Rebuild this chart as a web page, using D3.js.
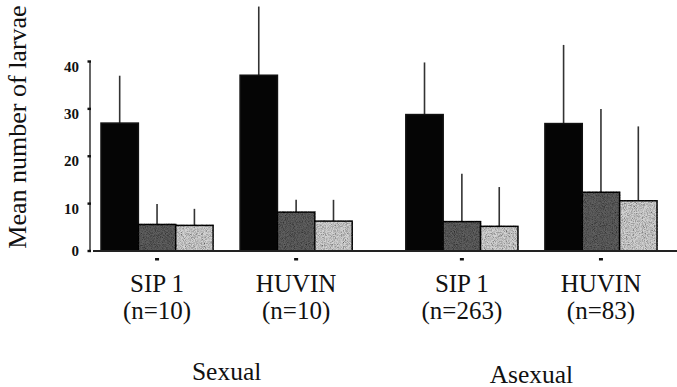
<!DOCTYPE html>
<html>
<head>
<meta charset="utf-8">
<script src="https://cdn.jsdelivr.net/npm/d3@7"></script>
<style>
	html, body { margin: 0; padding: 0; background: #fff; }
	body { width: 677px; height: 387px; overflow: hidden; }
	svg { display: block; }
</style>
</head>
<body>
<div id="chart"></div>
<script>
//data
const reproduction = ['Sexual', 'Asexual'];
const populations = ['SIP 1', 'HUVIN'];
const sampleSizes = [
	['(n=10)', '(n=10)'],
	['(n=263)', '(n=83)'],
];
const seriesNames = ['black', 'dark', 'light'];
// mean per series, in order Sexual SIP 1, Sexual HUVIN, Asexual SIP 1, Asexual HUVIN
const means = [
	[27.0, 37.1, 28.8, 26.9],
	[5.6, 8.2, 6.2, 12.4],
	[5.4, 6.3, 5.2, 10.6],
];
const errors = [
	[10.0, 14.5, 11.0, 16.6],
	[4.3, 2.6, 10.1, 17.6],
	[3.5, 4.5, 8.3, 15.7],
];
const yTicks = [0, 10, 20, 30, 40];

render();

function render() {
	let props = {
		width: 677,
		height: 387,
		axisX: 90,
		baseY: 251,
		topY: 61.5,
		left: 101,
		right: 657,
		colors: ['#050505', '#5e5e5e', '#d2d2d2'],
		font: "'Liberation Serif', 'Times New Roman', serif",
	};

	createVisualization(d3.select('#chart'), props);
}

function createVisualization(container, props) {
	let { width, height, axisX, baseY, topY, left, right, colors, font } = props;

	// one row per bar
	let rows = [];
	reproduction.forEach((r, ri) => {
		populations.forEach((p, pi) => {
			seriesNames.forEach((s, si) => {
				let k = ri * populations.length + pi;
				rows.push({
					rep: r,
					pop: p,
					series: s,
					si: si,
					mean: means[si][k],
					err: errors[si][k],
				});
			});
		});
	});

	const y = d3.scaleLinear().domain([0, 40]).range([baseY, topY]);

	const xOuter = d3
		.scaleBand()
		.domain(reproduction)
		.range([left, right])
		.paddingInner(0.176)
		.paddingOuter(0);

	const xInner = d3
		.scaleBand()
		.domain(populations)
		.range([0, xOuter.bandwidth()])
		.paddingInner(0.194)
		.paddingOuter(0);

	const xBar = d3
		.scaleBand()
		.domain(seriesNames)
		.range([0, xInner.bandwidth()])
		.padding(0);

	const color = d3.scaleOrdinal().domain(seriesNames).range(colors);

	const barX = (d) => xOuter(d.rep) + xInner(d.pop) + xBar(d.series);
	const groupCenter = (r, p) => xOuter(r) + xInner(p) + xInner.bandwidth() / 2;

	let svg = container
		.append('svg')
		.attr('width', width)
		.attr('height', height)
		.style('font-family', font);

	// speckled print texture for the grey bars
	let filter = svg.append('defs')
		.append('filter')
		.attr('id', 'grain')
		.attr('x', '-10%')
		.attr('y', '-10%')
		.attr('width', '120%')
		.attr('height', '120%');
	filter.append('feTurbulence')
		.attr('type', 'fractalNoise')
		.attr('baseFrequency', 1.1)
		.attr('numOctaves', 2)
		.attr('seed', 4)
		.attr('result', 'noise');
	filter.append('feColorMatrix')
		.attr('in', 'noise')
		.attr('type', 'matrix')
		.attr('values', '0 0 0 0 0  0 0 0 0 0  0 0 0 0 0  1.6 0 0 0 -0.6')
		.attr('result', 'dots');
	filter.append('feComposite')
		.attr('in', 'dots')
		.attr('in2', 'SourceGraphic')
		.attr('operator', 'in')
		.attr('result', 'clipped');
	let merge = filter.append('feMerge');
	merge.append('feMergeNode').attr('in', 'SourceGraphic');
	merge.append('feMergeNode').attr('in', 'clipped');

	//y axis
	let axis = svg.append('g');
	axis.append('line')
		.attr('x1', axisX)
		.attr('x2', axisX)
		.attr('y1', y(40))
		.attr('y2', y(0))
		.style('stroke', '#333')
		.style('stroke-width', 1.5);

	axis.selectAll('.tick')
		.data(yTicks)
		.enter()
		.append('rect')
		.attr('class', 'tick')
		.attr('x', axisX - 2.5)
		.attr('y', (d) => y(d) - 1.2)
		.attr('width', 3.5)
		.attr('height', 2.4)
		.style('fill', '#111');

	axis.selectAll('.tick-label')
		.data(yTicks)
		.enter()
		.append('text')
		.attr('class', 'tick-label')
		.attr('x', axisX - 11)
		.attr('y', (d) => y(d) + (d === 0 ? 0 : 5))
		.attr('dy', '0.34em')
		.style('text-anchor', 'end')
		.style('font-size', '15px')
		.style('font-weight', 'bold')
		.style('fill', '#111')
		.text((d) => d);

	svg.append('text')
		.attr('transform', translation(26, 127) + ' rotate(-90)')
		.style('text-anchor', 'middle')
		.style('font-size', '26px')
		.style('fill', '#111')
		.text('Mean number of larvae');

	//error bars
	svg.selectAll('.err')
		.data(rows)
		.enter()
		.append('line')
		.attr('class', 'err')
		.attr('x1', (d) => barX(d) + xBar.bandwidth() / 2)
		.attr('x2', (d) => barX(d) + xBar.bandwidth() / 2)
		.attr('y1', (d) => y(d.mean))
		.attr('y2', (d) => y(d.mean + d.err))
		.style('stroke', '#333')
		.style('stroke-width', 1.6);

	//bars
	svg.selectAll('.bar')
		.data(rows)
		.enter()
		.append('rect')
		.attr('class', 'bar')
		.attr('x', (d) => barX(d))
		.attr('y', (d) => y(d.mean))
		.attr('width', xBar.bandwidth())
		.attr('height', (d) => y(0) - y(d.mean))
		.attr('filter', (d) => (d.si > 0 ? 'url(#grain)' : null))
		.style('fill', (d) => color(d.series))
		.style('stroke', '#111')
		.style('stroke-width', 1.5);

	//baseline
	svg.append('line')
		.attr('x1', axisX + 3)
		.attr('x2', width)
		.attr('y1', y(0))
		.attr('y2', y(0))
		.style('stroke', '#222')
		.style('stroke-width', 2);

	//group labels
	let groups = [];
	reproduction.forEach((r, ri) => {
		populations.forEach((p, pi) => {
			groups.push({ rep: r, pop: p, n: sampleSizes[ri][pi] });
		});
	});

	svg.selectAll('.dash')
		.data(groups)
		.enter()
		.append('rect')
		.attr('class', 'dash')
		.attr('x', (d) => groupCenter(d.rep, d.pop) - 2)
		.attr('y', baseY + 7)
		.attr('width', 4)
		.attr('height', 2.5)
		.style('fill', '#111');

	let labels = svg.selectAll('.group-label')
		.data(groups)
		.enter()
		.append('text')
		.attr('class', 'group-label')
		.style('text-anchor', 'middle')
		.style('font-size', '25px')
		.style('fill', '#111');

	labels.append('tspan')
		.attr('x', (d) => groupCenter(d.rep, d.pop))
		.attr('y', 291.5)
		.text((d) => d.pop);

	labels.append('tspan')
		.attr('x', (d) => groupCenter(d.rep, d.pop))
		.attr('y', 318.5)
		.text((d) => d.n);

	svg.selectAll('.rep-label')
		.data(reproduction)
		.enter()
		.append('text')
		.attr('class', 'rep-label')
		.attr('x', (d) => xOuter(d) + xOuter.bandwidth() / 2)
		.attr('y', (d, i) => (i === 0 ? 380 : 382.5))
		.style('text-anchor', 'middle')
		.style('font-size', '25.5px')
		.style('fill', '#111')
		.text((d) => d);
}

//utils
function translation(x, y) {
	return `translate(${x}, ${y})`;
}
</script>
</body>
</html>
